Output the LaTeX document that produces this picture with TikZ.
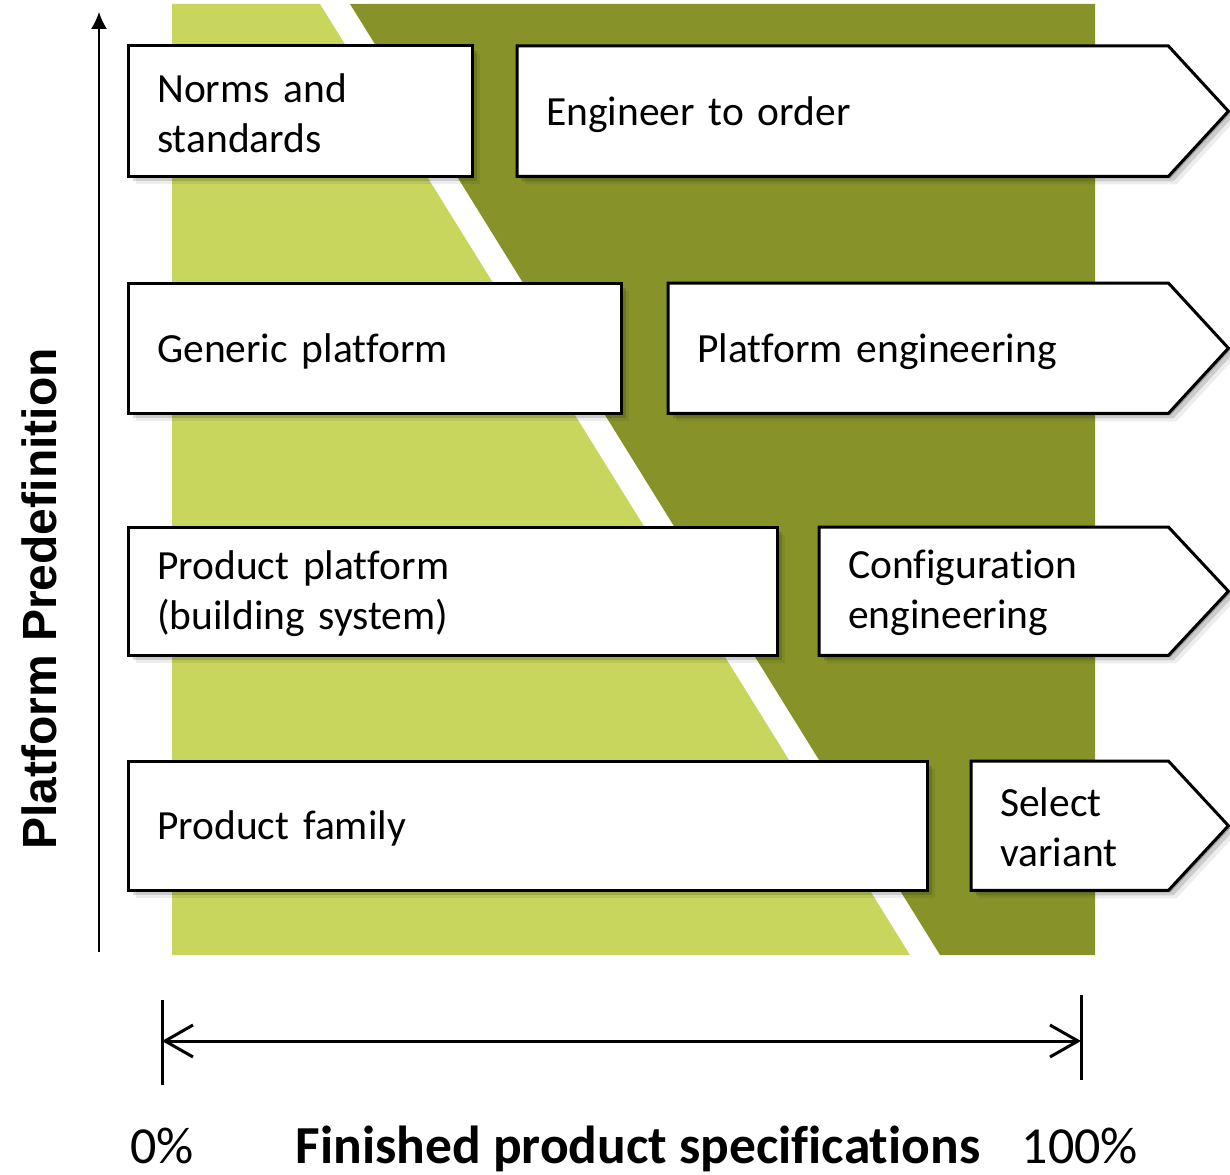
\documentclass[tikz,border=0pt]{standalone}
\usepackage{fontspec}
\setmainfont{Carlito}[Ligatures=NoCommon]
\newfontfamily\arialfont{Liberation Sans}[Ligatures=NoCommon]
\usetikzlibrary{shadows,calc,arrows.meta}
\definecolor{lightg}{RGB}{200,214,94}
\definecolor{darkg}{RGB}{135,147,41}
\pgfdeclarelayer{back}
\pgfdeclarelayer{mid}
\pgfsetlayers{back,mid,main}
\tikzset{
  softshadow/.style={
    drop shadow={shadow xshift=2pt,shadow yshift=-2pt,opacity=.22,fill=black},
    drop shadow={shadow xshift=5pt,shadow yshift=-5pt,opacity=.14,fill=black},
    drop shadow={shadow xshift=8pt,shadow yshift=-8pt,opacity=.07,fill=black}},
  boxline/.style={draw=black, line width=3pt, fill=white, line join=miter, softshadow},
  txt/.style={anchor=north west, inner xsep=0pt, inner ysep=0pt, minimum height=130pt,
    align=left, font=\fontsize{41.5}{50}\selectfont},
  axislabel/.style={font=\fontsize{52}{60}\selectfont, inner sep=0pt},
}
\begin{document}
\begin{tikzpicture}[x=1pt,y=-1pt]
\useasboundingbox (0,0) rectangle (1230,1174);

% text nodes (placed 3pt lower than their outlines)
\node[txt, minimum width=344pt, text width=286pt] (norms) at (128,48) {Norms and\\standards};
\node[txt, minimum width=651pt, text width=593pt] (eto) at (517,49) {Engineer to order};
\node[txt, minimum width=493pt, text width=435pt] (gen) at (128,286) {Generic platform};
\node[txt, minimum width=500pt, text width=442pt] (peng) at (668,286) {Platform engineering};
\node[txt, minimum width=649pt, text width=591pt, minimum height=128pt] (pp) at (128,529) {Product platform\\(building system)};
\node[txt, minimum width=349pt, text width=291pt, minimum height=128pt] (conf) at (819,529) {Configuration\\engineering};
\node[txt, minimum width=799pt, text width=741pt, minimum height=129pt] (fam) at (128,764) {Product family};
\node[txt, minimum width=197pt, text width=139pt, minimum height=129pt] (sel) at (971,763) {Select\\variant};

% background bands
\begin{pgfonlayer}{back}
  \fill[lightg] (172,4) -- (320,4) -- (910,955) -- (172,955) -- cycle;
  \fill[darkg] (350,4) -- (1095,4) -- (1095,955) -- (940,955) -- cycle;
\end{pgfonlayer}

% box outlines
\begin{pgfonlayer}{mid}
  \foreach \n/\d in {norms/2,gen/3,pp/2,fam/3}{
    \draw[boxline] ($(\n.north west)+(0,-\d)$) rectangle ($(\n.south east)+(0,-\d)$);
  }
  \foreach \n/\d in {eto/3,peng/3,conf/2,sel/2}{
    \draw[boxline] ($(\n.north west)+(0,-\d)$) -- ($(\n.north east)+(0,-\d)$)
      -- ($(\n.east)+(60,-\d)$)
      -- ($(\n.south east)+(0,-\d)$) -- ($(\n.south west)+(0,-\d)$) -- cycle;
  }
\end{pgfonlayer}

% vertical axis
\coordinate (ybot) at (99,952);
\coordinate (ytop) at (99,12);
\draw[line width=1.5pt, -{Latex[length=17pt,width=16pt]}] (ybot) -- (ytop);
\node[rotate=90, font=\arialfont\bfseries\fontsize{48}{56}\selectfont, inner sep=0pt] (ylab) at (39,599) {Platform Predefinition};

% horizontal axis
\coordinate (l1) at (162,1000);
\coordinate (l2) at (162,1085);
\coordinate (r1) at (1081,995);
\coordinate (r2) at (1081,1080);
\coordinate (la) at (162,1041);
\coordinate (ra) at (1081,1041);
\draw[line width=3pt] (l1) -- (l2);
\draw[line width=3pt] (r1) -- (r2);
\draw[line width=3pt, {Straight Barb[length=28pt,width=32pt]}-{Straight Barb[length=28pt,width=32pt]}] (la) -- (ra);

\node[axislabel, anchor=base] (p0) at (162,1163) {0\%};
\node[axislabel, anchor=base, font=\bfseries\fontsize{53.5}{60}\selectfont] (xlab) at (638,1163) {Finished product specifications};
\node[axislabel, anchor=base] (p100) at (1080,1163) {100\%};
\end{tikzpicture}
\end{document}
